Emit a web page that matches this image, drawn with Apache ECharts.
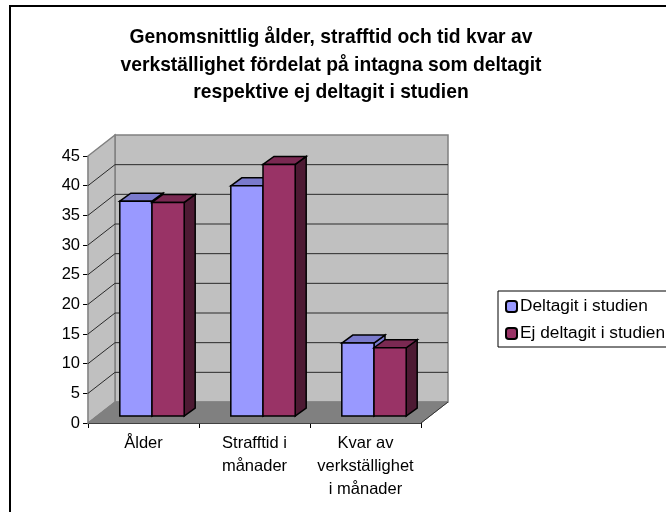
<!DOCTYPE html>
<html><head><meta charset="utf-8">
<style>html,body{margin:0;padding:0;background:#fff}#c{width:666px;height:512px}</style>
<script src="https://cdn.jsdelivr.net/npm/echarts@6/dist/echarts.min.js"></script>
</head><body><div id="c"></div>
<script>
const categories = ['Ålder', 'Strafftid i\nmånader', 'Kvar av\nverkställighet\ni månader'];
const deltagit = [36.2, 38.8, 12.3];
const ejDeltagit = [36.0, 42.4, 11.5];
const titleText = 'Genomsnittlig ålder, strafftid och tid kvar av\nverkställighet fördelat på intagna som deltagit\nrespektive ej deltagit i studien';
const seriesNames = ['Deltagit i studien', 'Ej deltagit i studien'];
const ticks = [0, 5, 10, 15, 20, 25, 30, 35, 40, 45];

const DX = 27, DY = -21;
const FONT = '"Liberation Sans", Arial, sans-serif';

function bar(values, which, fill, top, side) {
  return {
    type: 'custom', name: seriesNames[which], coordinateSystem: 'cartesian2d', z: 5 + which,
    itemStyle: { color: fill, borderColor: '#000', borderWidth: 1 },
    data: values.map((v, i) => [i, v]),
    encode: { x: 0, y: 1 },
    renderItem(params, api) {
      const i = api.value(0), v = api.value(1);
      const c = api.coord([i, v]), o = api.coord([i, 0]);
      const w = api.size([1, 0])[0] * 0.29;
      const fx = DX / 3 - 0.5, fy = DY / 3, bx = 11, by = -8;
      const x0 = c[0] + fx + (which - 1) * w, x1 = x0 + w;
      const yT = c[1] + fy, yB = o[1] + fy;
      const st = f => ({ fill: f, stroke: '#000', lineWidth: 1.5 });
      return { type: 'group', children: [
        { type: 'polygon', shape: { points: [[x1, yT], [x1 + bx, yT + by], [x1 + bx, yB + by], [x1, yB]] }, style: st(side) },
        { type: 'polygon', shape: { points: [[x0, yT], [x0 + bx, yT + by], [x1 + bx, yT + by], [x1, yT]] }, style: st(top) },
        { type: 'rect', shape: { x: x0, y: yT, width: w, height: yB - yT }, style: st(fill) }
      ] };
    }
  };
}

const walls = {
  type: 'custom', coordinateSystem: 'cartesian2d', z: 1, silent: true, tooltip: { show: false },
  data: [[0, 0]], encode: { x: 0, y: 1 },
  renderItem(params, api) {
    const cs = params.coordSys;
    const L = cs.x, R = cs.x + cs.width;
    const y0 = api.coord([0, 0])[1], yM = api.coord([0, 45])[1];
    const edge = { stroke: '#808080', lineWidth: 1.5 };
    const kids = [
      { type: 'polygon', shape: { points: [[L + DX, yM + DY], [R + DX, yM + DY], [R + DX, y0 + DY], [L + DX, y0 + DY]] }, style: { fill: '#C0C0C0', ...edge } },
      { type: 'polygon', shape: { points: [[L, yM], [L + DX, yM + DY], [L + DX, y0 + DY], [L, y0]] }, style: { fill: '#C0C0C0', ...edge } },
      { type: 'polygon', shape: { points: [[L, y0], [L + DX, y0 + DY], [R + DX, y0 + DY], [R, y0]] }, style: { fill: '#808080', stroke: '#808080', lineWidth: 1 } }
    ];
    ticks.slice(1, -1).forEach(t => {
      const y = api.coord([0, t])[1];
      kids.push({ type: 'polyline', shape: { points: [[L, y], [L + DX, y + DY], [R + DX, y + DY]] }, style: { fill: 'none', stroke: '#2a2a2a', lineWidth: 1 } });
    });
    kids.push({ type: 'polyline', shape: { points: [[R, y0], [R + DX, y0 + DY]] }, style: { fill: 'none', stroke: '#333', lineWidth: 1 } });
    return { type: 'group', children: kids };
  }
};

const chart = echarts.init(document.getElementById('c'), null, { renderer: 'canvas' });
chart.setOption({
  animation: false,
  backgroundColor: '#fff',
  graphic: [{ type: 'rect', z: 0, shape: { x: 10, y: 6, width: 700, height: 560 }, style: { fill: 'none', stroke: '#000', lineWidth: 2 } }],
  title: {
    text: titleText, left: 326, top: 19, textAlign: 'center',
    textStyle: { fontFamily: FONT, fontSize: 19.3, fontWeight: 'bold', color: '#000', lineHeight: 27.5 }
  },
  legend: {
    orient: 'vertical', left: 498, top: 291, padding: [6, 40, 4, 7], itemGap: 8,
    itemWidth: 11, itemHeight: 11, borderColor: '#000', borderWidth: 1, backgroundColor: '#fff',
    data: seriesNames, selectedMode: false,
    textStyle: { fontFamily: FONT, fontSize: 17.3, color: '#000', padding: [0, 0, 0, -2], lineHeight: 19 }
  },
  grid: { left: 88, top: 156, right: 245, bottom: 89 },
  xAxis: {
    type: 'category', data: categories,
    axisLine: { lineStyle: { color: '#000', width: 1.2 } },
    axisTick: { show: true, alignWithLabel: false, length: 5, lineStyle: { color: '#000' } },
    axisLabel: { fontFamily: FONT, fontSize: 16.5, color: '#000', lineHeight: 23, margin: 9, interval: 0 }
  },
  yAxis: {
    type: 'value', min: 0, max: 45, interval: 5,
    axisLine: { show: true, lineStyle: { color: '#000', width: 1.2 } },
    axisTick: { show: true, length: 5, lineStyle: { color: '#000' } },
    axisLabel: { fontFamily: FONT, fontSize: 16.5, color: '#000', margin: 8 },
    splitLine: { show: false }
  },
  series: [walls, bar(deltagit, 0, '#9999FF', '#7A7ACC', '#7A7ACC'), bar(ejDeltagit, 1, '#993366', '#7A2952', '#4D1A33')]
});
</script></body></html>
